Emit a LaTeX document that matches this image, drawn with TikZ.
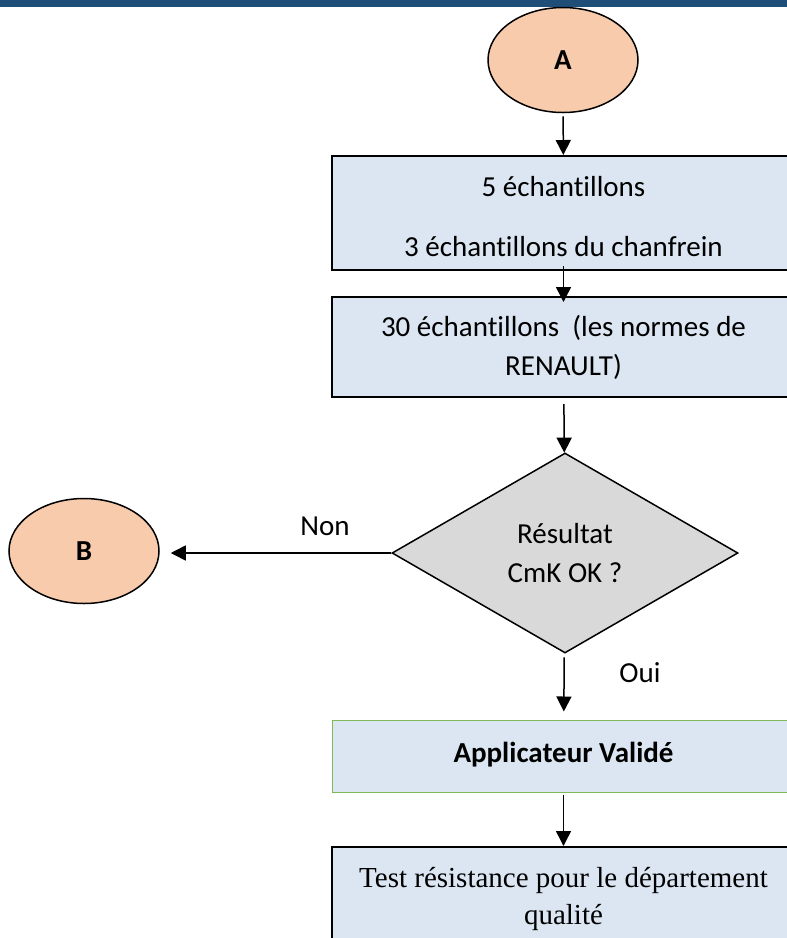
\documentclass[tikz,border=0pt]{standalone}
\usepackage{fontspec}
\setmainfont{Carlito}[RawFeature=-liga]
\newfontfamily\timesfont{Liberation Serif}
\usetikzlibrary{shapes.geometric,arrows.meta}
\definecolor{barblue}{RGB}{31,78,121}
\definecolor{boxblue}{RGB}{220,230,242}
\definecolor{peach}{RGB}{248,203,173}
\definecolor{diagrey}{RGB}{217,217,217}
\definecolor{okgreen}{RGB}{127,186,90}
\begin{document}
\begin{tikzpicture}[x=1pt,y=-1pt,
  txt/.style={font=\fontsize{29}{39}\selectfont},
  stepbox/.style={draw=black,line width=2pt,fill=boxblue,minimum width=463pt,
    inner sep=0pt,align=center,txt},
  connector/.style={ellipse,draw=black,line width=1.5pt,fill=peach,
    minimum width=150pt,minimum height=105pt,inner sep=0pt,
    font=\bfseries\fontsize{29}{35}\selectfont},
  decision/.style={diamond,draw=black,line width=1.5pt,fill=diagrey,
    minimum width=346pt,minimum height=200pt,inner sep=0pt,align=center,txt},
  flow/.style={draw=black,line width=1.5pt,-{Triangle[length=15pt,width=15pt]}},
  ]
\useasboundingbox (0,0) rectangle (787,938);
% header band
\fill[barblue] (0,0) rectangle (787,7);

% steps
\node[connector] (A) at (563,60) {A};
\node[stepbox,minimum height=114pt] (s1) at (563.5,213)
  {\rule{0pt}{28pt}5 échantillons\\[21pt]3 échantillons du chanfrein};
\node[stepbox,minimum height=100pt] (s2) at (563.5,347)
  {30 échantillons~~(les normes de\\RENAULT)};
\node[decision] (d) at (565,553) {Résultat\\CmK OK ?};
\node[connector] (B) at (84,551) {B};
\node[stepbox,draw=okgreen,line width=1pt,minimum height=72pt] (s3) at (563.5,756)
  {\raisebox{7pt}{\textbf{Applicateur Validé}}};
\node[stepbox,minimum height=104pt,font=\timesfont\fontsize{29}{37}\selectfont] (s4)
  at (563.5,899) {Test résistance pour le département\\qualité};

% branch labels
\node[txt,inner sep=0pt] (non) at (325,526) {Non};
\node[txt,inner sep=0pt] (oui) at (640,673) {Oui};

% connectors
\draw[flow,shorten <=3pt] (A) -- (s1);
\draw[flow] ([yshift=5pt]s1.south) -- ([yshift=-6pt]s2.north);
\draw[flow,shorten <=6pt] (s2) -- (d);
\draw[flow,shorten <=4pt,shorten >=8pt] (d) -- (s3);
\draw[flow,shorten <=2pt] (s3) -- (s4);
\draw[flow,shorten >=11pt] (d.west) -- (d.west -| B.east);
\end{tikzpicture}
\end{document}
